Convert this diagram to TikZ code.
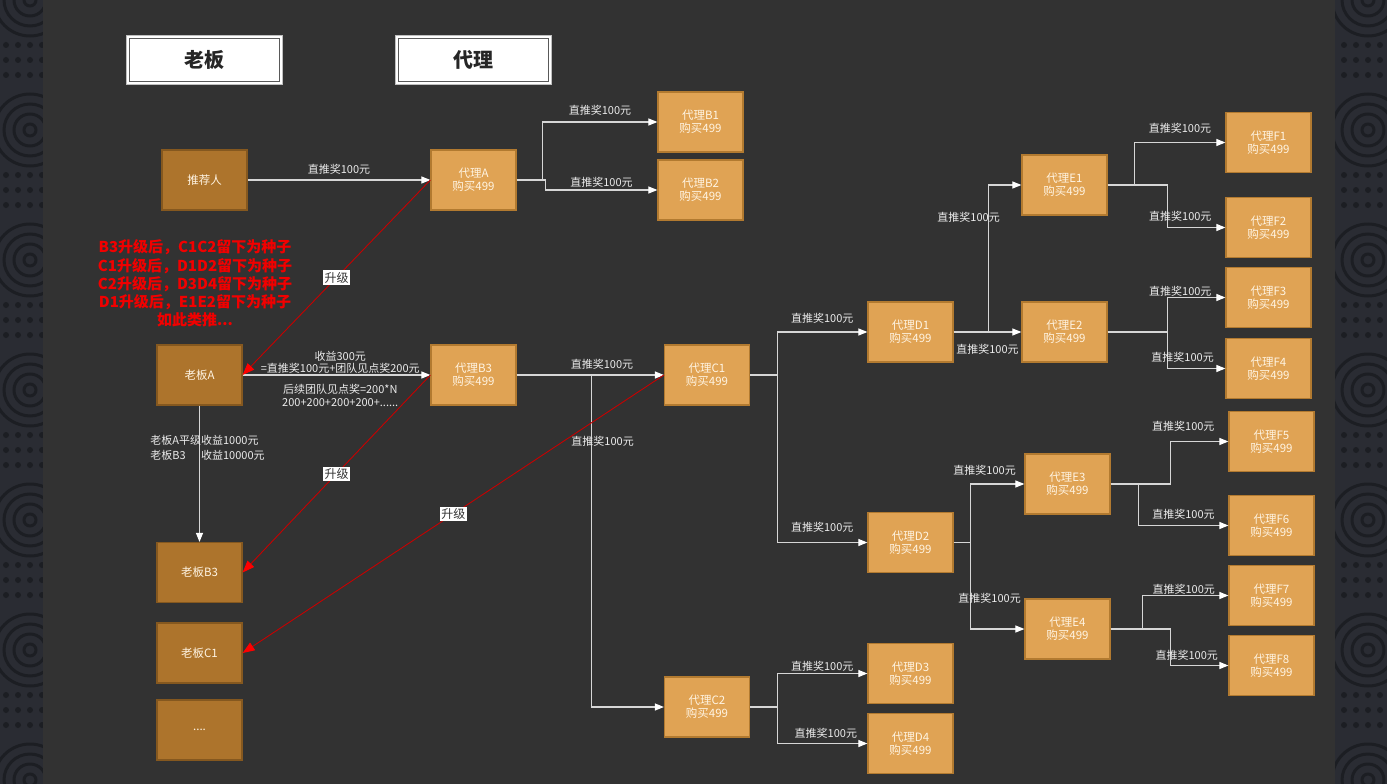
\documentclass[tikz,border=0pt]{standalone}
\usepackage{fontspec}
\newfontfamily\cjk{Noto Sans CJK SC}
\usetikzlibrary{arrows.meta}
\definecolor{bgpanel}{HTML}{323232}
\definecolor{bgside}{HTML}{2A2C33}
\definecolor{sidepat}{HTML}{1C1E23}
\definecolor{agentfill}{HTML}{E0A354}
\definecolor{agentline}{HTML}{B27A30}
\definecolor{bossfill}{HTML}{AD742C}
\definecolor{bossline}{HTML}{85581F}
\definecolor{boxtext}{HTML}{FFF4E2}
\definecolor{linkgray}{HTML}{D6D6D6}
\definecolor{upred}{HTML}{C80000}
\definecolor{notered}{HTML}{F20000}

\begin{document}
\begin{tikzpicture}[x=1pt,y=-1pt,font=\cjk,
    agent/.style={draw=agentline,line width=1.2pt,fill=agentfill,text=boxtext,
      minimum width=85pt,minimum height=60pt,align=center,inner sep=0pt,
      font=\cjk\fontsize{11.5}{13}\selectfont},
    boss/.style={agent,draw=bossline,fill=bossfill},
    hdr/.style={fill=white,draw=black!25,line width=1.2pt,minimum width=156pt,minimum height=49pt,
      text=black!85,font=\cjk\bfseries\fontsize{20}{24}\selectfont},
    link/.style={draw=linkgray,line width=1.1pt,-{Triangle[length=9pt,width=7pt,color=white]}},
    lbl/.style={text=white!92!black,inner sep=1pt,font=\cjk\fontsize{11}{12.5}\selectfont},
    upgrade/.style={draw=upred,line width=0.9pt,-{Triangle[length=12pt,width=9pt,color=red]}},
    uplbl/.style={fill=white,text=black!80,inner sep=1.5pt,font=\cjk\fontsize{12}{14}\selectfont},
  ]
    \useasboundingbox (0,0) rectangle (1387,784);
    % Background
    \fill[bgside] (0,0) rectangle (1387,784);
    \begin{scope}
      \clip (0,0) rectangle (43,784) (1335,0) rectangle (1387,784);
      \foreach \cx in {30,1368} {
        \foreach \cy in {0,130,260,390,520,650,780} {
          \foreach \r in {6,16,26,36} \draw[sidepat,line width=3pt] (\cx,\cy) circle[radius=\r pt];
          \foreach \dy in {45,60,75} \foreach \dx in {-24,-12,0,12,24}
            \fill[sidepat] (\cx+\dx,\cy+\dy) circle[radius=3pt];
        }
      }
    \end{scope}
    \fill[bgpanel] (43,0) rectangle (1335,784);

    % Headers
    \node[hdr] (hboss) at (204.5,60) {老板};
    \node[hdr] (hagent) at (473.5,60) {代理};
    \draw[black!65,line width=1.1pt] ([shift={(3.5,3.5)}]hboss.north west) rectangle ([shift={(-3.5,-3.5)}]hboss.south east);
    \draw[black!65,line width=1.1pt] ([shift={(3.5,3.5)}]hagent.north west) rectangle ([shift={(-3.5,-3.5)}]hagent.south east);

    % Boss column
    \node[boss] (ref) at (204.5,180) {推荐人};
    \node[boss] (bossA) at (199.5,375) {老板A};
    \node[boss] (bossB3) at (199.5,572.5) {老板B3};
    \node[boss] (bossC1) at (199.5,653) {老板C1};
    \node[boss] (bossMore) at (199.5,730) {....};

    % Agents
    \node[agent] (agA) at (473.5,180) {代理A\\购买499};
    \node[agent] (agB1) at (700.5,122) {代理B1\\购买499};
    \node[agent] (agB2) at (700.5,190) {代理B2\\购买499};
    \node[agent] (agB3) at (473.5,375) {代理B3\\购买499};
    \node[agent] (agC1) at (707,375) {代理C1\\购买499};
    \node[agent] (agC2) at (707,707) {代理C2\\购买499};
    \node[agent] (agD1) at (910.5,332) {代理D1\\购买499};
    \node[agent] (agD2) at (910.5,542.5) {代理D2\\购买499};
    \node[agent] (agD3) at (910.5,673.5) {代理D3\\购买499};
    \node[agent] (agD4) at (910.5,743.5) {代理D4\\购买499};
    \node[agent] (agE1) at (1064.5,185) {代理E1\\购买499};
    \node[agent] (agE2) at (1064.5,332) {代理E2\\购买499};
    \node[agent] (agE3) at (1067.5,484) {代理E3\\购买499};
    \node[agent] (agE4) at (1067.5,629) {代理E4\\购买499};
    \node[agent] (agF1) at (1268.5,142.5) {代理F1\\购买499};
    \node[agent] (agF2) at (1268.5,227.5) {代理F2\\购买499};
    \node[agent] (agF3) at (1268.5,297.5) {代理F3\\购买499};
    \node[agent] (agF4) at (1268.5,368.5) {代理F4\\购买499};
    \node[agent] (agF5) at (1271.5,441.5) {代理F5\\购买499};
    \node[agent] (agF6) at (1271.5,525.5) {代理F6\\购买499};
    \node[agent] (agF7) at (1271.5,595.5) {代理F7\\购买499};
    \node[agent] (agF8) at (1271.5,665.5) {代理F8\\购买499};

    % Note
    \node[text=notered,align=center,font=\cjk\bfseries\fontsize{15}{18.2}\selectfont] (note) at (195,283.5)
      {B3升级后，C1C2留下为种子\\C1升级后，D1D2留下为种子\\C2升级后，D3D4留下为种子\\D1升级后，E1E2留下为种子\\如此类推...};

    % Referral links
    \draw[link] (ref) -- node[lbl,above=4.5pt]{直推奖100元} (agA);
    \draw[link] (agA.east) -- ++(26,0) |- node[lbl,pos=.75,above=5.5pt]{直推奖100元} (agB1);
    \draw[link] (agA.east) -- ++(29,0) |- node[lbl,pos=.75,above=1.5pt]{直推奖100元} (agB2);
    \draw[link] (bossA) -- node[lbl,pos=.52,above=0pt,align=center]{收益300元\\=直推奖100元+团队见点奖200元}
      node[lbl,pos=.52,below=8pt,align=center]{后续团队见点奖=200*N\\200+200+200+200+......} (agB3);
    \draw[link] (bossA) -- node[lbl,pos=.32,xshift=8pt,font=\cjk\fontsize{11}{15}\selectfont]
      {\begin{tabular}{@{}l@{}l@{}}老板A平级&收益1000元\\老板B3&收益10000元\end{tabular}} (bossB3);
    \draw[link] (agB3) -- node[lbl,pos=.58,above=4.5pt]{直推奖100元} (agC1);
    \draw[link] (agB3.east) -- ++(75,0) |- node[lbl,pos=.1,xshift=11pt]{直推奖100元} (agC2);
    \draw[link] (agC1.east) -- ++(27,0) |- node[lbl,pos=.75,above=7.5pt]{直推奖100元} (agD1);
    \draw[link] (agC1.east) -- ++(27,0) |- node[lbl,pos=.75,above=8.5pt]{直推奖100元} (agD2);
    \draw[link] (agC2.east) -- ++(27,0) |- node[lbl,pos=.75,above=0.5pt]{直推奖100元} (agD3);
    \draw[link] (agC2.east) -- ++(27,0) |- node[lbl,pos=.77,above=3.5pt]{直推奖100元} (agD4);
    \draw[link] (agD1.east) -- ++(35,0) |- node[lbl,pos=.39,xshift=-20pt]{直推奖100元} (agE1);
    \draw[link] (agD1) -- node[lbl,below=11pt]{直推奖100元} (agE2);
    \draw[link] (agD2.east) -- ++(17,0) |- node[lbl,pos=.63,above=7.5pt]{直推奖100元} (agE3);
    \draw[link] (agD2.east) -- ++(17,0) |- node[lbl,pos=.32,xshift=19pt]{直推奖100元} (agE4);
    \draw[link] (agE1.east) -- ++(27,0) |- node[lbl,pos=.75,above=7.5pt]{直推奖100元} (agF1);
    \draw[link] (agE1.east) -- ++(60,0) |- node[lbl,pos=.61,above=4.5pt]{直推奖100元} (agF2);
    \draw[link] (agE2.east) -- ++(60,0) |- node[lbl,pos=.61,above=0pt]{直推奖100元} (agF3);
    \draw[link] (agE2.east) -- ++(60,0) |- node[lbl,pos=.63,above=4.5pt]{直推奖100元} (agF4);
    \draw[link] (agE3.east) -- ++(60,0) |- node[lbl,pos=.61,above=8.5pt]{直推奖100元} (agF5);
    \draw[link] (agE3.east) -- ++(28,0) |- node[lbl,pos=.75,above=4.5pt]{直推奖100元} (agF6);
    \draw[link] (agE4.east) -- ++(32,0) |- node[lbl,pos=.74,above=0pt]{直推奖100元} (agF7);
    \draw[link] (agE4.east) -- ++(60,0) |- node[lbl,pos=.64,above=3.5pt]{直推奖100元} (agF8);

    % Upgrades
    \draw[upgrade] (agA.west) -- node[uplbl]{升级} (bossA.east);
    \draw[upgrade] (agB3.west) -- node[uplbl]{升级} (bossB3.east);
    \draw[upgrade] (agC1.west) -- node[uplbl]{升级} (bossC1.east);
\end{tikzpicture}
\end{document}
